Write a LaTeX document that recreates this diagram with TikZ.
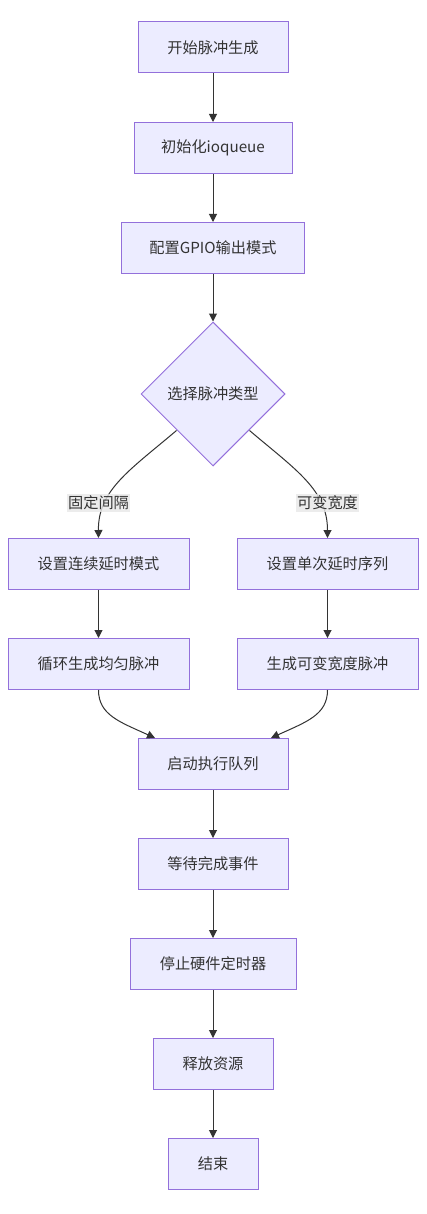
\documentclass[tikz,border=0pt]{standalone}
\usepackage{fontspec}
\newfontfamily\cjk{Noto Sans CJK SC}
\usetikzlibrary{shapes.geometric,arrows.meta}
\definecolor{nodefill}{HTML}{ECECFF}
\definecolor{nodedraw}{HTML}{9370DB}
\definecolor{txt}{HTML}{333333}
\definecolor{lblbg}{HTML}{E8E8E8}
\tikzset{
  box/.style={draw=nodedraw, fill=nodefill, line width=1pt, minimum height=51pt, inner sep=0pt, text=txt, font=\cjk\fontsize{15.2pt}{17pt}\selectfont},
  dia/.style={draw=nodedraw, fill=nodefill, line width=1pt, diamond, minimum width=144pt, minimum height=144pt, inner sep=0pt, text=txt, font=\cjk\fontsize{15.2pt}{17pt}\selectfont},
  arr/.style={draw=txt, line width=1pt, -{Triangle[length=8pt,width=8pt]}},
  lbl/.style={fill=lblbg, fill opacity=0.8, text opacity=1, text=txt, inner sep=1.5pt, font=\cjk\fontsize{15.2pt}{17pt}\selectfont}
}
\begin{document}
\begin{tikzpicture}[x=1pt,y=-1pt]
\useasboundingbox[fill=white] (0,0) rectangle (426,1214);
\node[box, minimum width=150pt] (n1) at (213,47.5) {开始脉冲生成};
\node[box, minimum width=158pt] (n2) at (213,148) {初始化ioqueue};
\node[box, minimum width=183pt] (n3) at (213,248) {配置GPIO输出模式};
\node[dia] (d) at (213,394) {选择脉冲类型};
\node[box, minimum width=181pt] (l1) at (98.5,564) {设置连续延时模式};
\node[box, minimum width=181pt] (r1) at (327.5,564) {设置单次延时序列};
\node[box, minimum width=181pt] (l2) at (98.5,664) {循环生成均匀脉冲};
\node[box, minimum width=181pt] (r2) at (327.5,664) {生成可变宽度脉冲};
\node[box, minimum width=150pt] (n9) at (213,764) {启动执行队列};
\node[box, minimum width=150pt] (n10) at (213,864) {等待完成事件};
\node[box, minimum width=166pt] (n11) at (213,964) {停止硬件定时器};
\node[box, minimum width=120pt] (n12) at (213,1064) {释放资源};
\node[box, minimum width=90pt] (n13) at (213,1164) {结束};

\draw[arr] (n1) -- (n2);
\draw[arr] (n2) -- (n3);
\draw[arr] (n3) -- (d);
\coordinate (dl) at (176.5,430.5);
\coordinate (dr) at (249.5,430.5);
\draw[arr] (dl) .. controls (130,470) and (98,490) .. (l1.north);
\draw[arr] (dr) .. controls (296,470) and (327.5,490) .. (r1.north);
\node[lbl] (la) at (98.5,503) {固定间隔};
\node[lbl] (lb) at (327.5,503) {可变宽度};
\draw[arr] (l1) -- (l2);
\draw[arr] (r1) -- (r2);
\draw[arr] (l2.south) .. controls (98.5,715) and (120,722) .. ([xshift=-58pt]n9.north);
\draw[arr] (r2.south) .. controls (327.5,715) and (306,722) .. ([xshift=58pt]n9.north);
\draw[arr] (n9) -- (n10);
\draw[arr] (n10) -- (n11);
\draw[arr] (n11) -- (n12);
\draw[arr] (n12) -- (n13);
\end{tikzpicture}
\end{document}
